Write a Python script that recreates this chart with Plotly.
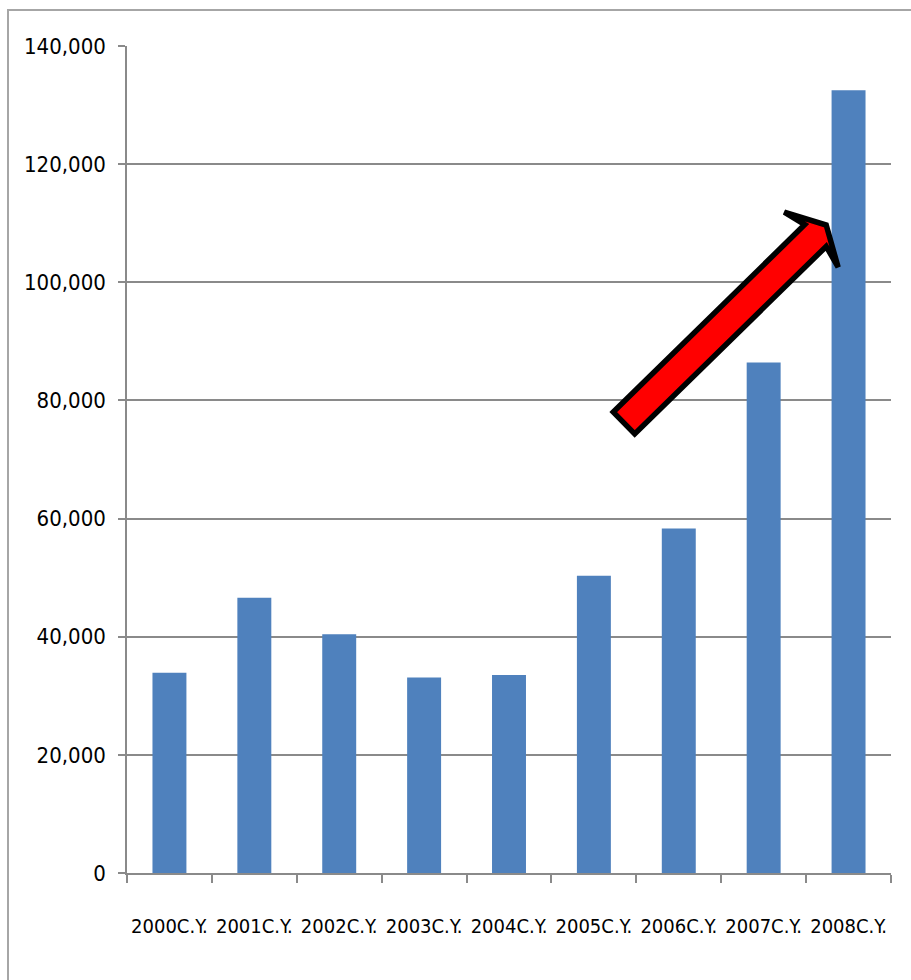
import math
import plotly.graph_objects as go

categories = ["2000C.Y.", "2001C.Y.", "2002C.Y.", "2003C.Y.", "2004C.Y.",
              "2005C.Y.", "2006C.Y.", "2007C.Y.", "2008C.Y."]
values = [33900, 46600, 40400, 33100, 33500, 50300, 58300, 86400, 132500]
y_ticks = [0, 20000, 40000, 60000, 80000, 100000, 120000, 140000]

W, H = 911, 980
ML, MR, MT, MB = 127, 20, 46, 107
PW, PH = W - ML - MR, H - MT - MB


def to_paper(px, py):
    return (px - ML) / PW, (H - MB - py) / PH


FONT = "Liberation Sans Narrow, Arial Narrow, DejaVu Sans Condensed, sans-serif"

fig = go.Figure()
fig.add_trace(go.Bar(
    x=categories, y=values,
    marker=dict(color="#4F81BD", line=dict(width=0)),
    width=0.4,
))

# Block arrow (decoration) built in a local frame: along-axis s, across t
tail = (624, 423)
ang = math.radians(44.4)
ux, uy = math.cos(ang), -math.sin(ang)
nx, ny = math.sin(ang), math.cos(ang)   # perpendicular (towards lower right)
local = [(0, -15.3), (268, -15.3), (262, -38.5), (283, 0),
         (262, 38.5), (268, 15.3), (0, 15.3)]
pts = []
for s, t in local:
    px = tail[0] + s * ux + t * nx
    py = tail[1] + s * uy + t * ny
    pts.append(to_paper(px, py))
path = "M " + " L ".join(f"{x:.5f},{y:.5f}" for x, y in pts) + " Z"

bx0, by0 = to_paper(8, 10)
bx1, by1 = to_paper(930, 1000)

fig.update_layout(
    width=W, height=H,
    margin=dict(l=ML, r=MR, t=MT, b=MB, pad=0, autoexpand=False),
    paper_bgcolor="white", plot_bgcolor="white",
    showlegend=False,
    font=dict(family=FONT, color="black"),
    xaxis=dict(
        type="category",
        automargin=False,
        tickangle=0,
        showline=True, linecolor="#8a8a8a", linewidth=1.5,
        ticks="outside", tickson="boundaries", ticklen=8,
        tickcolor="#8a8a8a", tickwidth=1.5,
        tickfont=dict(size=20, family=FONT, color="black"),
        ticklabelstandoff=34,
        showgrid=False,
    ),
    yaxis=dict(
        range=[0, 140000],
        automargin=False,
        tickvals=y_ticks,
        tickformat=",",
        showline=True, linecolor="#8a8a8a", linewidth=1.5,
        ticks="outside", ticklen=7, tickcolor="#8a8a8a", tickwidth=1.5,
        tickfont=dict(size=22, family=FONT, color="black"),
        ticklabelstandoff=8,
        showgrid=True, gridcolor="#8a8a8a", gridwidth=1.5,
        zeroline=False,
    ),
    shapes=[
        dict(type="rect", xref="paper", yref="paper",
             x0=bx0, y0=by1, x1=bx1, y1=by0,
             line=dict(color="#a6a6a6", width=2), fillcolor="rgba(0,0,0,0)",
             layer="below"),
        dict(type="path", xref="paper", yref="paper", path=path,
             fillcolor="#FF0000", line=dict(color="black", width=5.5),
             layer="above"),
    ],
)

fig.write_html("out.html")
